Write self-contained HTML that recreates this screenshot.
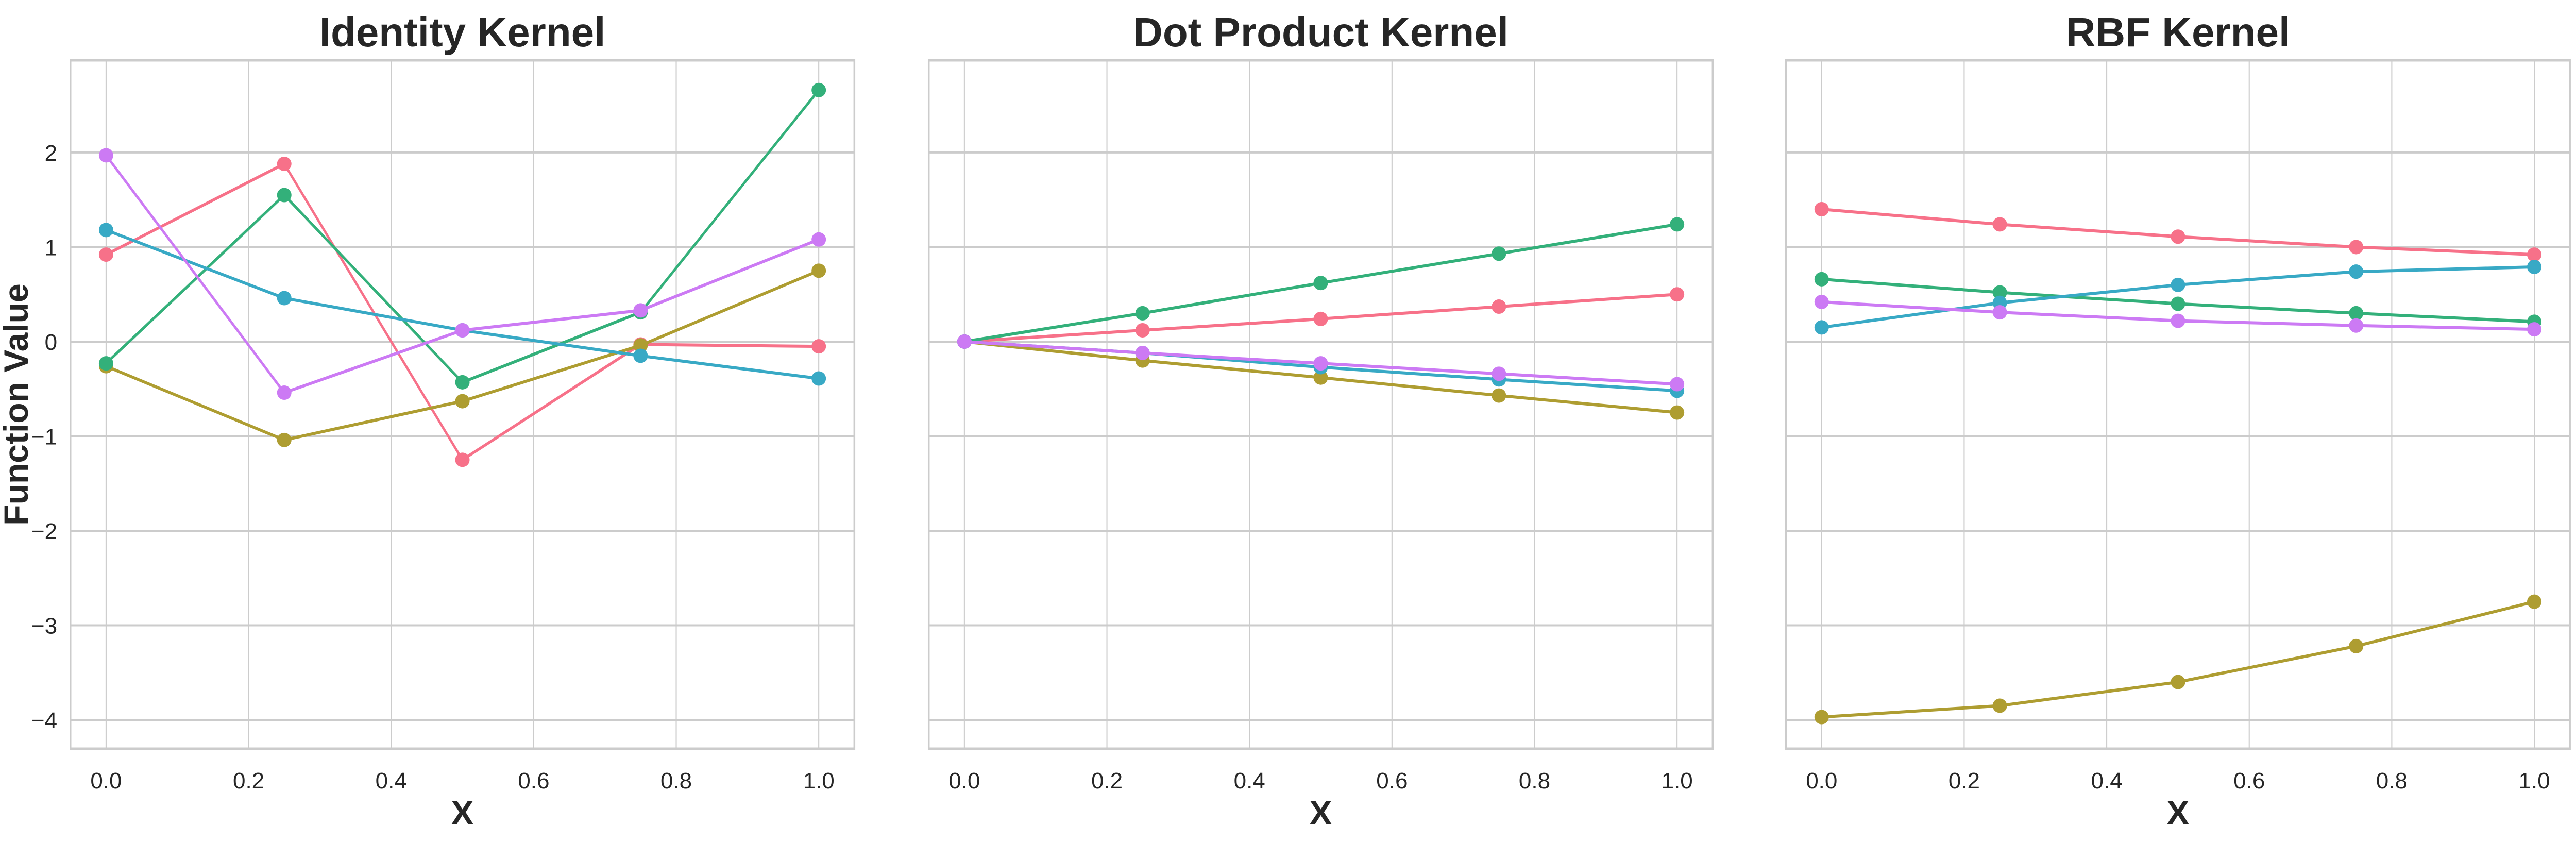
<!DOCTYPE html>
<html><head><meta charset="utf-8"><style>
html,body{margin:0;padding:0;background:#fff;width:100%;height:100%;overflow:hidden}
svg{display:block;font-family:"Liberation Sans",Arial,sans-serif;width:100vw;height:100vh}
</style></head><body>
<svg id="chart" viewBox="0 0 7203 1634" preserveAspectRatio="none" xmlns="http://www.w3.org/2000/svg"></svg>
<script>
const xValues = [0, 0.25, 0.5, 0.75, 1.0];
const xTicks = [0, 0.2, 0.4, 0.6, 0.8, 1.0];
const xTickLabels = ["0.0","0.2","0.4","0.6","0.8","1.0"];
const yTicks = [2, 1, 0, -1, -2, -3, -4];
const yTickLabels = ["2","1","0","\u22121","\u22122","\u22123","\u22124"];
const panelTitles = ["Identity Kernel", "Dot Product Kernel", "RBF Kernel"];
const seriesColors = ["#f77189", "#ae9d31", "#33b07a", "#38a9c5", "#cc7af4"];
const seriesNames = ["pink", "olive", "green", "cyan", "purple"];
const identityPink   = [0.92, 1.88, -1.25, -0.03, -0.05];
const identityOlive  = [-0.26, -1.04, -0.63, -0.04, 0.75];
const identityGreen  = [-0.23, 1.55, -0.43, 0.31, 2.66];
const identityCyan   = [1.18, 0.46, 0.12, -0.15, -0.39];
const identityPurple = [1.97, -0.54, 0.12, 0.33, 1.08];
const dotPink   = [0, 0.12, 0.24, 0.37, 0.50];
const dotOlive  = [0, -0.20, -0.38, -0.57, -0.75];
const dotGreen  = [0, 0.30, 0.62, 0.93, 1.24];
const dotCyan   = [0, -0.12, -0.27, -0.40, -0.52];
const dotPurple = [0, -0.12, -0.23, -0.34, -0.45];
const rbfPink   = [1.40, 1.24, 1.11, 1.00, 0.92];
const rbfOlive  = [-3.97, -3.85, -3.60, -3.22, -2.75];
const rbfGreen  = [0.66, 0.52, 0.40, 0.30, 0.21];
const rbfCyan   = [0.15, 0.41, 0.60, 0.74, 0.79];
const rbfPurple = [0.42, 0.31, 0.22, 0.17, 0.13];
const panelSeries = [
  [identityPink, identityOlive, identityGreen, identityCyan, identityPurple],
  [dotPink, dotOlive, dotGreen, dotCyan, dotPurple],
  [rbfPink, rbfOlive, rbfGreen, rbfCyan, rbfPurple]
];

const NS = "http://www.w3.org/2000/svg";
const svgEl = document.getElementById("chart");
const vw = window.innerWidth || 7203, vh = window.innerHeight || 1634;
const kx = (vh / 1634) / (vw / 7203);
const panelLefts = [197, 2597, 4994];
const panelW = 2192, plotTop = 117, plotBottom = 1453;
const xMin = -0.05, xMax = 1.05, yMin = -4.305, yMax = 2.975;
function mk(tag, attrs, parent) {
  const e = document.createElementNS(NS, tag);
  for (const k in attrs) e.setAttribute(k, attrs[k]);
  (parent || svgEl).appendChild(e);
  return e;
}
function txt(x, y, attrs, parent, extra) {
  const t = mk("text", Object.assign({x: 0, y: 0, transform: "translate(" + x + "," + y + ") scale(" + kx + ",1)" + (extra || "")}, attrs), parent);
  return t;
}
function yS(v) { return plotTop + (yMax - v) / (yMax - yMin) * (plotBottom - plotTop); }

panelTitles.forEach((title, p) => {
  const L = panelLefts[p];
  const xS = v => L + (v - xMin) / (xMax - xMin) * panelW;
  const g = mk("g", {});
  
  
  xTicks.forEach((t, i) => {
    const ln = mk("line", {x1: xS(t), x2: xS(t), y1: plotTop, y2: plotBottom, stroke: "#cccccc", "stroke-width": 3}, g);
    
    
    const tx = txt(xS(t), 1530, {"font-size": 44, fill: "#262626", "text-anchor": "middle"}, g);
    tx.textContent = xTickLabels[i];
    
    
  });
  yTicks.forEach((t, i) => {
    const ln = mk("line", {x1: L, x2: L + panelW, y1: yS(t), y2: yS(t), stroke: "#cccccc", "stroke-width": 4}, g);
    
    
    if (p === 0) {
      const tx = txt(160, yS(t) + 16, {"font-size": 44, fill: "#262626", "text-anchor": "end"}, g);
      tx.textContent = yTickLabels[i];
      
      
    }
  });
  const frame = mk("rect", {x: L, y: plotTop, width: panelW, height: plotBottom - plotTop, fill: "none", stroke: "#cccccc", "stroke-width": 5}, g);
  
  
  panelSeries[p].forEach((vals, s) => {
    const pts = vals.map((v, i) => xS(xValues[i]) + "," + yS(v)).join(" ");
    const pl = mk("polyline", {points: pts, fill: "none", stroke: seriesColors[s], "stroke-width": 6}, g);
    
    
    vals.forEach((v, i) => {
      const c = mk("ellipse", {cx: xS(xValues[i]), cy: yS(v), rx: 14 * kx, ry: 14, fill: seriesColors[s]}, g);
      
      
    });
  });
  const tt = txt(L + panelW / 2, 90, {"font-size": 80, "font-weight": "bold", fill: "#262626", "text-anchor": "middle"}, g);
  tt.textContent = title;
  
  
  const xl = txt(L + panelW / 2, 1600, {"font-size": 66, "font-weight": "bold", fill: "#262626", "text-anchor": "middle"}, g);
  xl.textContent = "X";
  
  
});
const yl = txt(78, 785, {"font-size": 66, "font-weight": "bold", fill: "#262626", "text-anchor": "middle"}, svgEl, " rotate(-90)");
yl.textContent = "Function Value";


</script>
</body></html>
